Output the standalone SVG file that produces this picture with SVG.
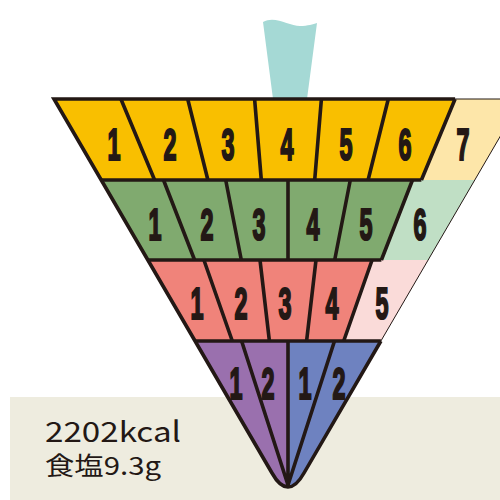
<svg xmlns="http://www.w3.org/2000/svg" width="500" height="500" viewBox="0 0 500 500">
<style>
.y{fill:#F9BF00}.yl{fill:#FDE6A9}
.g{fill:#80AA6F}.gl{fill:#C0DFC5}
.r{fill:#F0837A}.rl{fill:#FADBD9}
.p{fill:#9A70AE}.b{fill:#6E82C0}
.n{font-family:"Liberation Sans",Arial,sans-serif;font-weight:bold;font-size:45px;fill:#231815;stroke:#231815;stroke-width:2.2;text-anchor:middle}
.thick{fill:none;stroke:#231815;stroke-width:3.6;stroke-linejoin:miter;stroke-linecap:butt}
.thin{fill:none;stroke:#231815;stroke-width:1}
.t{font-family:"Noto Sans CJK JP","Noto Sans",sans-serif;fill:#231815}
</style>
<rect x="10" y="397" width="490" height="103" fill="#EEECDF"/>
<path id="glass" d="M263,22 C275,15 289,26 300,26 C308,26 313,24 317,23 L307,99 L273,99 Z" fill="#A5D9D5"/>

<g id="row1-1"><polygon class="y" points="54,99 120.9,99 154.6,180 101.2,180"/><text class="n" transform="translate(114,160) scale(0.52,1)">1</text></g>
<g id="row1-2"><polygon class="y" points="120.9,99 187.7,99 207.9,180 154.6,180"/><text class="n" transform="translate(170,160) scale(0.52,1)">2</text></g>
<g id="row1-3"><polygon class="y" points="187.7,99 254.6,99 261.3,180 207.9,180"/><text class="n" transform="translate(228,160) scale(0.52,1)">3</text></g>
<g id="row1-4"><polygon class="y" points="254.6,99 321.4,99 314.7,180 261.3,180"/><text class="n" transform="translate(287,160) scale(0.52,1)">4</text></g>
<g id="row1-5"><polygon class="y" points="321.4,99 388.3,99 368.1,180 314.7,180"/><text class="n" transform="translate(346,160) scale(0.52,1)">5</text></g>
<g id="row1-6"><polygon class="y" points="388.3,99 455.1,99 421.4,180 368.1,180"/><text class="n" transform="translate(405,160) scale(0.52,1)">6</text></g>
<g id="row1-7"><polygon class="yl" points="455.1,99 522,99 474.8,180 421.4,180"/><text class="n" transform="translate(463,160) scale(0.52,1)">7</text></g>

<g id="row2-1"><polygon class="g" points="101.2,180 163.5,180 194.6,260 147.9,260"/><text class="n" transform="translate(155,240) scale(0.52,1)">1</text></g>
<g id="row2-2"><polygon class="g" points="163.5,180 225.7,180 241.3,260 194.6,260"/><text class="n" transform="translate(207,240) scale(0.52,1)">2</text></g>
<g id="row2-3"><polygon class="g" points="225.7,180 288,180 288,260 241.3,260"/><text class="n" transform="translate(259,240) scale(0.52,1)">3</text></g>
<g id="row2-4"><polygon class="g" points="288,180 350.3,180 334.7,260 288,260"/><text class="n" transform="translate(313,240) scale(0.52,1)">4</text></g>
<g id="row2-5"><polygon class="g" points="350.3,180 412.5,180 381.4,260 334.7,260"/><text class="n" transform="translate(366,240) scale(0.52,1)">5</text></g>
<g id="row2-6"><polygon class="gl" points="412.5,180 474.8,180 428.1,260 381.4,260"/><text class="n" transform="translate(420,240) scale(0.52,1)">6</text></g>

<g id="row3-1"><polygon class="r" points="147.9,260 203.9,260 232.3,341 195.1,341"/><text class="n" transform="translate(197,319) scale(0.52,1)">1</text></g>
<g id="row3-2"><polygon class="r" points="203.9,260 260,260 269.4,341 232.3,341"/><text class="n" transform="translate(241,319) scale(0.52,1)">2</text></g>
<g id="row3-3"><polygon class="r" points="260,260 316,260 306.6,341 269.4,341"/><text class="n" transform="translate(285,319) scale(0.52,1)">3</text></g>
<g id="row3-4"><polygon class="r" points="316,260 372.1,260 343.7,341 306.6,341"/><text class="n" transform="translate(332,319) scale(0.52,1)">4</text></g>
<g id="row3-5"><polygon class="rl" points="372.1,260 428.1,260 380.9,341 343.7,341"/><text class="n" transform="translate(382,319) scale(0.52,1)">5</text></g>

<g id="row4-1"><path class="p" d="M195.1,341 L241.6,341 L288,486 L288,487 C282,487 277,482 272,473 Z"/><text class="n" transform="translate(236,399) scale(0.52,1)">1</text></g>
<g id="row4-2"><path class="p" d="M241.6,341 L288,341 L288,487 Z"/><text class="n" transform="translate(268,399) scale(0.52,1)">2</text></g>
<g id="row4-3"><path class="b" d="M288,341 L334.5,341 L288,487 Z"/><text class="n" transform="translate(305,399) scale(0.52,1)">1</text></g>
<g id="row4-4"><path class="b" d="M334.5,341 L380.9,341 L304,473 C299,482 294,487 288,487 L288,486 Z"/><text class="n" transform="translate(339,399) scale(0.52,1)">2</text></g>

<g id="connectors">
<path class="thin" d="M455.1,99 H522 M522,99 L380.9,341"/>
<path class="thick" d="M455.1,99 L54,99 L272,473 C277,482 282,487 288,487 C294,487 299,482 304,473 L380.9,341"/>
<path class="thick" d="M101.2,180 H421.4 M147.9,260 H381.4 M195.1,341 H380.9"/>
<path class="thick" d="M455.1,99 L421.4,180 M412.5,180 L381.4,260 M372.1,260 L343.7,341"/>
<path class="thick" d="M120.9,99 L154.6,180 M187.7,99 L207.9,180 M254.6,99 L261.3,180 M321.4,99 L314.7,180 M388.3,99 L368.1,180"/>
<path class="thick" d="M163.5,180 L194.6,260 M225.7,180 L241.3,260 M288,180 L288,260 M350.3,180 L334.7,260"/>
<path class="thick" d="M203.9,260 L232.3,341 M260,260 L269.4,341 M316,260 L306.6,341"/>
<path class="thick" stroke-width="3" d="M241.6,341 L288,485 M288,341 L288,487 M334.5,341 L288,485"/>
</g>

<g id="info">
<text class="t" x="45" y="442" font-size="28" textLength="136" lengthAdjust="spacingAndGlyphs">2202kcal</text>
<text class="t" x="45" y="475" font-size="24.5" textLength="116" lengthAdjust="spacingAndGlyphs">食塩9.3g</text>
</g>
</svg>
